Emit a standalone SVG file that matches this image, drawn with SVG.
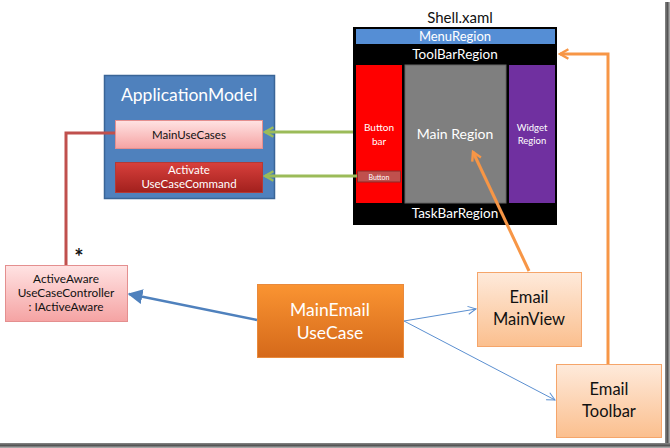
<svg xmlns="http://www.w3.org/2000/svg" width="670" height="448" viewBox="0 0 670 448">
<style>
text{font-family:Lato,"Liberation Sans",sans-serif;text-anchor:middle}
.w{fill:#fff}
.k{fill:#111}
</style>
<defs>
<linearGradient id="pink" x1="0" y1="0" x2="0" y2="1"><stop offset="0" stop-color="#ffe3e3"/><stop offset="1" stop-color="#f5a3a3"/></linearGradient>
<linearGradient id="red" x1="0" y1="0" x2="0" y2="1"><stop offset="0" stop-color="#d8403c"/><stop offset="1" stop-color="#a2201d"/></linearGradient>
<linearGradient id="orange" x1="0" y1="0" x2="0" y2="1"><stop offset="0" stop-color="#fa9432"/><stop offset="1" stop-color="#d5691a"/></linearGradient>
<linearGradient id="lorange" x1="0" y1="0" x2="0" y2="1"><stop offset="0" stop-color="#feeadb"/><stop offset="1" stop-color="#fbbf8e"/></linearGradient>
<linearGradient id="shR" x1="0" y1="0" x2="1" y2="0"><stop offset="0" stop-color="#888"/><stop offset="0.5" stop-color="#555"/><stop offset="1" stop-color="#bbb"/></linearGradient>
<linearGradient id="shB" x1="0" y1="0" x2="0" y2="1"><stop offset="0" stop-color="#888"/><stop offset="0.5" stop-color="#555"/><stop offset="1" stop-color="#bbb"/></linearGradient>
<marker id="ag" viewBox="0 0 10 10" refX="8" refY="5" markerWidth="4" markerHeight="4" orient="auto"><path d="M1,1 L8,5 L1,9" fill="none" stroke="#9bbb59" stroke-width="2"/></marker>
<marker id="ao" viewBox="0 0 10 10" refX="8" refY="5" markerWidth="4" markerHeight="4" orient="auto"><path d="M1,1 L8,5 L1,9" fill="none" stroke="#f79646" stroke-width="2"/></marker>
<marker id="ab" viewBox="0 0 10 10" refX="9" refY="5" markerWidth="6" markerHeight="6" orient="auto"><path d="M0,0 L10,5 L0,10 z" fill="#4f81bd"/></marker>
<marker id="at" viewBox="0 0 10 10" refX="9" refY="5" markerWidth="10" markerHeight="10" orient="auto"><path d="M1,1 L9,5 L1,9" fill="none" stroke="#5b8fd0" stroke-width="1"/></marker>
</defs>
<rect x="0" y="0" width="670" height="448" fill="#fff"/>
<rect x="665" y="2" width="5" height="446" fill="url(#shR)"/>
<rect x="0" y="443" width="670" height="5" fill="url(#shB)"/>

<g id="ApplicationModel">
<rect x="104.5" y="75.5" width="170" height="123" fill="#4f81bd" stroke="#3a6597" stroke-width="1.5"/>
<text x="189" y="101" class="w" style="font-size:17.5px">ApplicationModel</text>
</g>
<g id="MainUseCases">
<rect x="115.5" y="120.5" width="147" height="28" fill="url(#pink)" stroke="#e48f8f"/>
<text x="189" y="139" class="k" style="font-size:11.5px">MainUseCases</text>
</g>
<g id="ActivateUseCaseCommand">
<rect x="115.5" y="162.5" width="147" height="30" fill="url(#red)" stroke="#b33a36"/>
<text x="189" y="174" class="w" style="font-size:11.5px">Activate</text>
<text x="189" y="188" class="w" style="font-size:11.5px">UseCaseCommand</text>
</g>

<g id="Shell">
<text x="460" y="23" class="k" style="font-size:15px">Shell.xaml</text>
<rect x="353" y="27" width="204" height="198" fill="#000"/>
<rect x="356" y="29" width="199" height="15" fill="#558ed5"/>
<text x="455" y="41" class="w" style="font-size:13px">MenuRegion</text>
<text x="455" y="59" class="w" style="font-size:13.5px">ToolBarRegion</text>
<text x="455" y="218" class="w" style="font-size:13.5px">TaskBarRegion</text>
</g>
<g id="ButtonBar">
<rect x="356" y="65" width="46" height="138" fill="#ff0000"/>
<text x="379" y="131" class="w" style="font-size:10px">Button</text>
<text x="379" y="145" class="w" style="font-size:10px">bar</text>
</g>
<g id="Button">
<rect x="357.5" y="171" width="43" height="11" fill="#c0504d" stroke="#8c2a28"/>
<text x="379" y="179.5" class="w" style="font-size:7px">Button</text>
</g>
<g id="MainRegion">
<rect x="405" y="65" width="101" height="138" fill="#7f7f7f" stroke="#666"/>
<text x="455" y="139" class="w" style="font-size:14px">Main Region</text>
</g>
<g id="WidgetRegion">
<rect x="509" y="65" width="46" height="138" fill="#7030a0"/>
<text x="532" y="131" class="w" style="font-size:9.5px">Widget</text>
<text x="532" y="144" class="w" style="font-size:9.5px">Region</text>
</g>

<g id="ActiveAwareUseCaseController">
<rect x="5.5" y="265.5" width="122" height="56" fill="url(#pink)" stroke="#e48f8f"/>
<text x="66" y="283" class="k" style="font-size:11.8px">ActiveAware</text>
<text x="66" y="297" class="k" style="font-size:11.8px">UseCaseController</text>
<text x="66" y="311" class="k" style="font-size:11.8px">: IActiveAware</text>
</g>
<g id="MainEmailUseCase">
<rect x="257.5" y="284.5" width="146" height="73" fill="url(#orange)" stroke="#e98a3c"/>
<text x="330" y="316" class="w" style="font-size:17.5px">MainEmail</text>
<text x="330" y="339" class="w" style="font-size:17.5px">UseCase</text>
</g>
<g id="EmailMainView">
<rect x="477.5" y="272.5" width="104" height="74" fill="url(#lorange)" stroke="#f5a56a"/>
<text x="529" y="303" class="k" style="font-size:16.5px">Email</text>
<text x="529" y="325" class="k" style="font-size:16.5px">MainView</text>
</g>
<g id="EmailToolbar">
<rect x="556.5" y="364.5" width="105" height="73" fill="url(#lorange)" stroke="#f5a56a"/>
<text x="609" y="395" class="k" style="font-size:16.5px">Email</text>
<text x="609" y="417" class="k" style="font-size:16.5px">Toolbar</text>
</g>

<g id="connectors">
<path d="M115,133 H66 V265" fill="none" stroke="#c0504d" stroke-width="3"/>
<path d="M353,132 H265" fill="none" stroke="#9bbb59" stroke-width="3" marker-end="url(#ag)"/>
<path d="M357,176 H265" fill="none" stroke="#9bbb59" stroke-width="3" marker-end="url(#ag)"/>
<path d="M257,320 L129,294" fill="none" stroke="#4f81bd" stroke-width="2.5" marker-end="url(#ab)"/>
<path d="M404,321 L476,309" fill="none" stroke="#5b8fd0" stroke-width="1" marker-end="url(#at)"/>
<path d="M404,321 L555,400" fill="none" stroke="#5b8fd0" stroke-width="1" marker-end="url(#at)"/>
<path d="M529,271 L473,152" fill="none" stroke="#f79646" stroke-width="3" marker-end="url(#ao)"/>
<path d="M608,364 V54 H560" fill="none" stroke="#f79646" stroke-width="3" marker-end="url(#ao)"/>
<text x="79" y="265" class="k" style="font-size:22px;font-weight:bold">*</text>
</g>
</svg>
